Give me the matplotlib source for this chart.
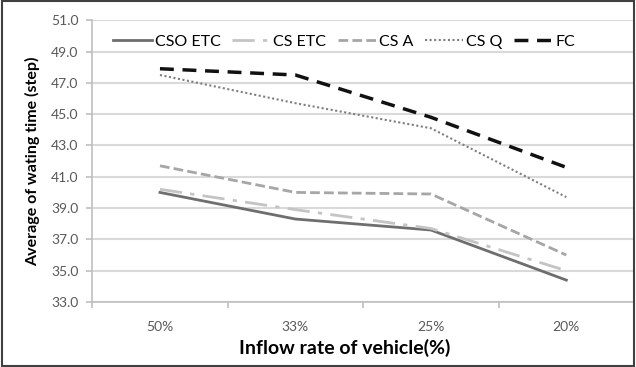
import numpy as np
from matplotlib import pyplot as plt
from matplotlib.patches import Rectangle

# data
categories = ["50%", "33%", "25%", "20%"]
cso_etc = [40.0, 38.3, 37.6, 34.4]
cs_etc = [40.2, 38.9, 37.7, 35.0]
cs_a = [41.7, 40.0, 39.9, 36.0]
cs_q = [47.5, 45.7, 44.1, 39.7]
fc = [47.9, 47.5, 44.8, 41.6]

plt.rcParams['font.family'] = ['Lato', 'DejaVu Sans']

fig = plt.figure(figsize=(6.36, 3.67), dpi=100)
ax = fig.add_axes([0.145, 0.177, 0.852, 0.768])

x = np.arange(len(categories))
ax.plot(x, cso_etc, color='#6e6e6e', lw=2.0, label='CSO ETC')
ax.plot(x, cs_etc, color='#c4c4c4', lw=2.0, dashes=(8, 3, 1.5, 3), label='CS ETC')
ax.plot(x, cs_a, color='#a6a6a6', lw=2.0, dashes=(3.5, 1.5), label='CS A')
ax.plot(x, cs_q, color='#7f7f7f', lw=1.5, dashes=(1, 1.2), label='CS Q')
ax.plot(x, fc, color='#111111', lw=2.5, dashes=(4, 2.5), label='FC')

ax.set_xlim(-0.5, 3.5)
ax.set_ylim(33, 51)
ax.set_yticks(np.arange(33, 51.1, 2))
ax.set_yticklabels([f"{v:.1f}" for v in np.arange(33, 51.1, 2)])
ax.set_xticks(x)
ax.set_xticklabels(categories)
ax.set_xticks([-0.5, 0.5, 1.5, 2.5, 3.5], minor=True)
ax.tick_params(axis='x', which='major', length=0, pad=14, labelsize=10, labelcolor='#595959')
ax.tick_params(axis='x', which='minor', length=4, color='#bfbfbf', width=1.2)
ax.tick_params(axis='y', length=4, color='#bfbfbf', width=1.2, labelsize=10, labelcolor='#595959', pad=6)

ax.grid(axis='y', color='#d9d9d9', lw=1.5)
ax.set_axisbelow(True)
for s in ['top', 'right']:
    ax.spines[s].set_visible(False)
for s in ['left', 'bottom']:
    ax.spines[s].set_color('#bfbfbf')
    ax.spines[s].set_linewidth(1.2)

ax.set_xlabel('Inflow rate of vehicle(%)', fontsize=14, fontweight='bold', labelpad=4)
ax.xaxis.set_label_coords(0.465, -0.13)
ax.set_ylabel('Average of wating time (step)', fontsize=11.5, fontweight='bold', labelpad=8)

ax.legend(loc='upper center', bbox_to_anchor=(0.465, 1.0), ncol=5, frameon=False,
          fontsize=11.5, handlelength=2.4, handletextpad=0.2, columnspacing=0.7)

fig.patches.append(Rectangle((0.003, 0.004), 0.994, 0.992, transform=fig.transFigure,
                             fill=False, edgecolor='#404040', lw=1.5))

fig.savefig('out.png', dpi=100)
